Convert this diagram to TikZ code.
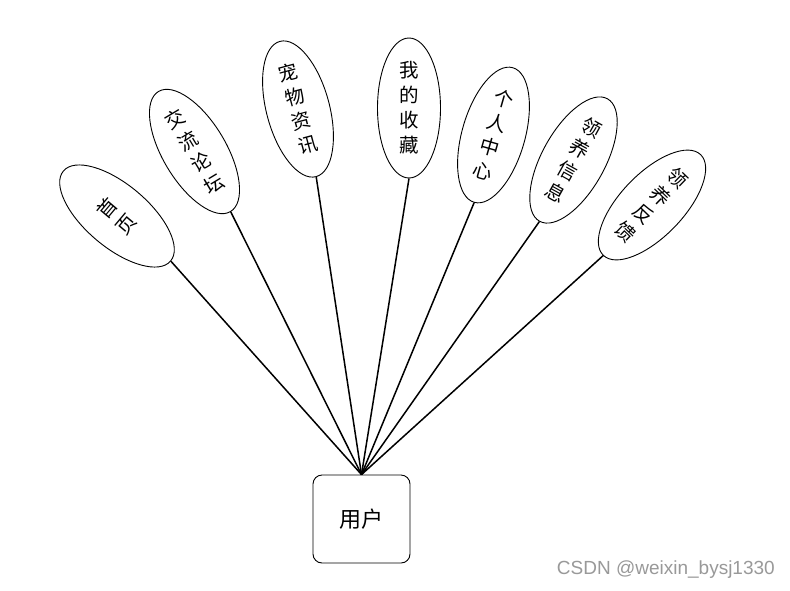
\documentclass[tikz,border=0pt]{standalone}
\usepackage{fontspec}
\setmainfont{Liberation Sans}
\newfontfamily\cjk{Noto Sans CJK SC}
\usetikzlibrary{shapes.geometric}
\tikzset{
  oval/.style={draw, ellipse, line width=0.9pt, minimum width=63pt, minimum height=140pt, inner sep=0pt},
  ovaltext/.style={align=center, inner sep=0pt, font=\cjk\fontsize{19.5pt}{25pt}\selectfont},
  link/.style={line width=1.5pt},
  userbox/.style={draw, rounded corners=9pt, line width=0.9pt, minimum width=97pt, minimum height=88pt, font=\cjk\fontsize{22pt}{24pt}\selectfont}
}
\begin{document}
\begin{tikzpicture}[x=1pt,y=-1pt]
\useasboundingbox (0,0) rectangle (790,590);
\fill[white] (0,0) rectangle (790,590);
\node[userbox] (user) at (361.5,519) {用户};
\node[oval, rotate=50]  (e1) at (117,216)   {};
\node[ovaltext, rotate=50]  (t1) at (e1.center) {首\\页};
\node[oval, rotate=31]  (e2) at (194.5,151.5) {};
\node[ovaltext, rotate=31]  (t2) at (e2.center) {交\\流\\论\\坛};
\node[oval, rotate=15]  (e3) at (298,109)   {};
\node[ovaltext, rotate=15]  (t3) at (e3.center) {宠\\物\\资\\讯};
\node[oval, rotate=0]   (e4) at (409,108)   {};
\node[ovaltext, rotate=0]   (t4) at (e4.center) {我\\的\\收\\藏};
\node[oval, rotate=-16] (e5) at (493.5,135) {};
\node[ovaltext, rotate=-16] (t5) at (e5.center) {个\\人\\中\\心};
\node[oval, rotate=-29] (e6) at (573.5,160) {};
\node[ovaltext, rotate=-29] (t6) at (e6.center) {领\\养\\信\\息};
\node[oval, rotate=-44] (e7) at (652,205)   {};
\node[ovaltext, rotate=-44] (t7) at (e7.center) {领\\养\\反\\馈};
\foreach \e in {e1,e2,e3,e4,e5,e6,e7}
  \draw[link] (\e.south) -- (user.north);
\node[text=black!40, font=\fontsize{19pt}{21pt}\selectfont, anchor=east, inner sep=0pt] (wm) at (775,570) {CSDN @weixin\_bysj1330};
\end{tikzpicture}
\end{document}
